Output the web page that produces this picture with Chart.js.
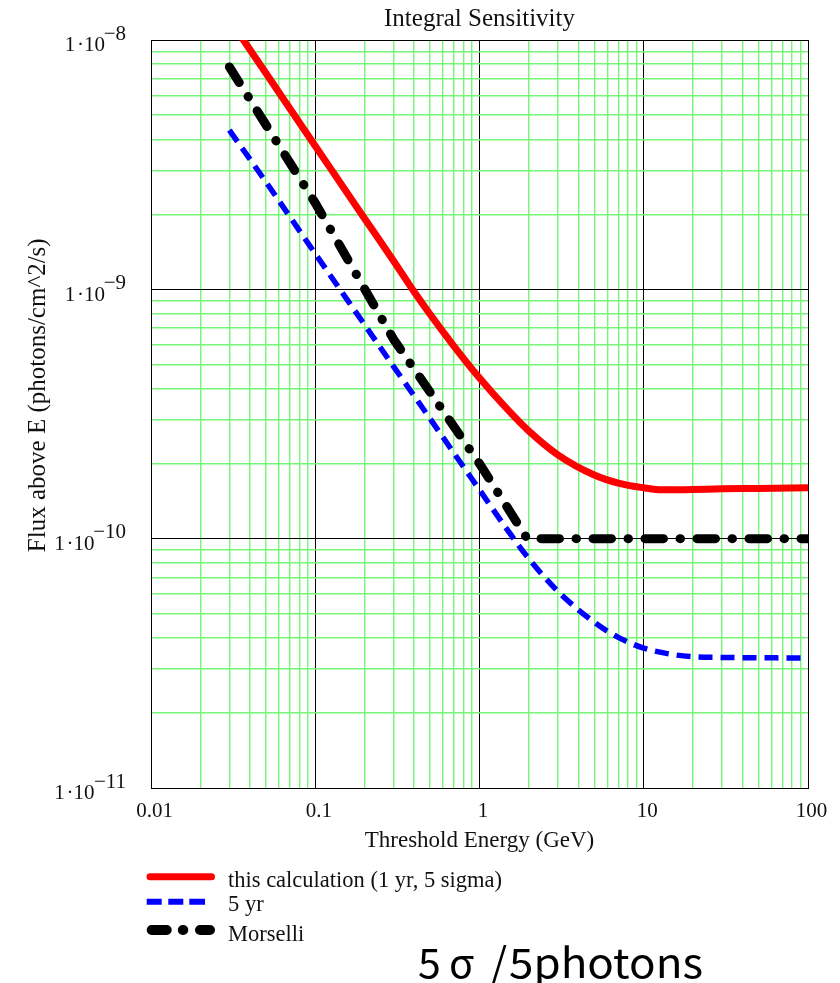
<!DOCTYPE html>
<html>
<head>
<meta charset="utf-8">
<title>Integral Sensitivity</title>
<script src="https://cdn.jsdelivr.net/npm/chart.js@4/dist/chart.umd.min.js"></script>
<style>
  html, body { margin: 0; padding: 0; background: #fff; }
  #wrap { position: relative; width: 840px; height: 983px; overflow: hidden; }
  #chart { position: absolute; left: 0; top: 0; }
  #notes { position: absolute; left: 0; top: 860px; }
</style>
</head>
<body>
<div id="wrap">
  <canvas id="chart" width="840" height="983"></canvas>
  <svg id="notes" width="840" height="123" xmlns="http://www.w3.org/2000/svg" font-family="'Liberation Serif', 'Times New Roman', serif">
    <!-- legend samples -->
    <path d="M150,16.7H211.5" stroke="#ff0000" stroke-width="7" stroke-linecap="round" fill="none"/>
    <text x="228" y="27.3" font-size="22.5" fill="#111">this calculation (1 yr, 5 sigma)</text>
    <path d="M146.7,41.7H161.7M168.3,41.7H183.3M189.3,41.7H205" stroke="#0000ff" stroke-width="6" fill="none"/>
    <text x="228" y="50.5" font-size="22.5" fill="#111">5 yr</text>
    <path d="M151.7,70H166.7M182.8,70h0.5M200,70H210" stroke="#000" stroke-width="10" stroke-linecap="round" fill="none"/>
    <text x="228" y="81" font-size="22.5" fill="#111">Morselli</text>
    <!-- detection criterion note -->
    <text y="118.3" font-family="'Noto Sans CJK JP', 'Noto Sans', sans-serif" font-size="41" fill="#000"><tspan x="418">5</tspan><tspan x="449">σ</tspan><tspan x="491">/</tspan><tspan x="509" textLength="194" lengthAdjust="spacingAndGlyphs">5photons</tspan></text>
  </svg>
</div>
<script>
// Threshold energy decades (GeV) and their labels
const energyTicks = [0.01, 0.1, 1, 10, 100];
const energyTickLabels = ['0.01', '0.1', '1', '10', '100'];
// Flux decades (photons/cm^2/s) and the exponents printed beside them
const fluxDecades = [1e-11, 1e-10, 1e-9, 1e-8];
const fluxExponents = ['\u221211', '\u221210', '\u22129', '\u22128'];

// this calculation (1 yr, 5 sigma)
const calcEnergy = [0.03, 0.05, 0.1, 0.2, 0.3, 0.4, 0.5, 0.7, 1, 1.5, 2, 3, 5, 7, 10, 13, 20, 30, 50, 100];
const calcFlux = [1.21e-8, 7.37e-9, 3.76e-9, 1.92e-9, 1.3e-9, 9.77e-10, 7.94e-10, 5.91e-10, 4.41e-10,
                  3.27e-10, 2.7e-10, 2.17e-10, 1.8e-10, 1.67e-10, 1.6e-10, 1.57e-10, 1.575e-10, 1.585e-10, 1.59e-10, 1.6e-10];

// 5 yr
const fiveYrEnergy = [0.03, 0.05, 0.1, 0.2, 0.3, 0.5, 0.7, 1, 1.5, 2, 3, 5, 7, 10, 15, 20, 30, 50, 100];
const fiveYrFlux = [4.35e-9, 2.7e-9, 1.39e-9, 7.2e-10, 4.9e-10, 3.03e-10, 2.2e-10, 1.57e-10, 1.07e-10, 8.3e-11,
                    6.15e-11, 4.62e-11, 4.02e-11, 3.64e-11, 3.43e-11, 3.36e-11, 3.34e-11, 3.33e-11, 3.32e-11];

// Morselli
const morselliEnergy = [0.03, 0.1, 0.3, 1, 1.95, 10, 100];
const morselliFlux = [7.8e-9, 2.22e-9, 6.3e-10, 2.0e-10, 1.0e-10, 1.0e-10, 1.0e-10];

const GRID_MINOR = 'rgb(118,246,118)';
const GRID_MAJOR = '#000';

function isDecade(v) {
  const l = Math.log10(v);
  return Math.abs(l - Math.round(l)) < 1e-6;
}
function sameValue(a, b) {
  return Math.abs(Math.log10(a) - Math.log10(b)) < 1e-6;
}
// 1..9 x each decade, plus the closing decade
function logTicks(decades) {
  const out = [];
  for (let i = 0; i < decades.length - 1; i++) {
    for (let m = 1; m <= 9; m++) out.push({ value: +(m * decades[i]).toPrecision(6) });
  }
  out.push({ value: decades[decades.length - 1] });
  return out;
}
function points(xs, ys) {
  return xs.map((x, i) => ({ x: x, y: ys[i] }));
}
function gridColor(c) {
  return c.tick && isDecade(c.tick.value) ? GRID_MAJOR : GRID_MINOR;
}
function gridWidth(c) {
  return c.tick && isDecade(c.tick.value) ? 1 : 1.4;
}

Chart.defaults.font.family = "'Liberation Serif', 'Times New Roman', serif";
Chart.defaults.color = '#000';

new Chart(document.getElementById('chart'), {
  type: 'line',
  data: {
    datasets: [
      {
        label: 'this calculation (1 yr, 5 sigma)',
        data: points(calcEnergy, calcFlux),
        borderColor: '#ff0000',
        borderWidth: 7,
        pointRadius: 0,
        cubicInterpolationMode: 'monotone',
        fill: false,
        clip: 0
      },
      {
        label: '5 yr',
        data: points(fiveYrEnergy, fiveYrFlux),
        borderColor: '#0000ff',
        borderWidth: 5.5,
        borderDash: [14, 8],
        borderCapStyle: 'butt',
        pointRadius: 0,
        cubicInterpolationMode: 'monotone',
        fill: false,
        clip: 0
      },
      {
        label: 'Morselli',
        data: points(morselliEnergy, morselliFlux),
        borderColor: '#000',
        borderWidth: 9,
        borderDash: [18.5, 16.5, 0.5, 16.5],
        borderCapStyle: 'round',
        borderJoinStyle: 'round',
        pointRadius: 0,
        tension: 0,
        fill: false,
        clip: 0
      }
    ]
  },
  options: {
    responsive: false,
    animation: false,
    devicePixelRatio: 1,
    layout: { padding: { left: 0, right: 32, top: 0, bottom: 125 } },
    plugins: {
      legend: { display: false },
      tooltip: { enabled: false },
      title: {
        display: true,
        text: 'Integral Sensitivity',
        color: '#111',
        fullSize: false,
        font: { size: 25, weight: 'normal' },
        padding: { top: 4, bottom: 6 }
      }
    },
    scales: {
      x: {
        type: 'logarithmic',
        min: 0.01,
        max: 100,
        afterBuildTicks: s => { s.ticks = logTicks(energyTicks); },
        afterFit: s => { s.height = 70; s.paddingLeft = 0; s.paddingRight = 0; },
        grid: { color: gridColor, lineWidth: gridWidth, drawTicks: false },
        border: { display: true, color: '#000', width: 1 },
        ticks: {
          autoSkip: false,
          maxRotation: 0,
          minRotation: 0,
          padding: 11,
          labelOffset: 3.5,
          color: '#111',
          font: { size: 21 },
          callback: v => {
            const i = energyTicks.findIndex(t => sameValue(t, v));
            return i >= 0 ? energyTickLabels[i] : '';
          }
        },
        title: {
          display: true,
          text: 'Threshold Energy (GeV)',
          color: '#111',
          font: { size: 23 },
          padding: { top: 0, bottom: 3 }
        }
      },
      y: {
        type: 'logarithmic',
        min: 1e-11,
        max: 1e-8,
        afterBuildTicks: s => { s.ticks = logTicks(fluxDecades); },
        afterFit: s => { s.width = 151; s.paddingTop = 0; s.paddingBottom = 0; },
        grid: { color: gridColor, lineWidth: gridWidth, drawTicks: false },
        border: { display: true, color: '#000', width: 1 },
        ticks: {
          autoSkip: false,
          padding: 25,
          color: '#111',
          font: { size: 21, lineHeight: 0.56 },
          callback: v => {
            const i = fluxDecades.findIndex(t => sameValue(t, v));
            if (i < 0) return '';
            const exp = fluxExponents[i];
            // exponent on the upper line, mantissa shifted left by the exponent's width
            return [exp, '1\u200a\u00b710' + '\u2002'.repeat(exp.length)];
          }
        },
        title: {
          display: true,
          text: '\u2002\u2002\u2002Flux above E (photons/cm^2/s)',
          color: '#111',
          font: { size: 25 },
          padding: { top: 23, bottom: 0 }
        }
      }
    }
  }
});
</script>
</body>
</html>
